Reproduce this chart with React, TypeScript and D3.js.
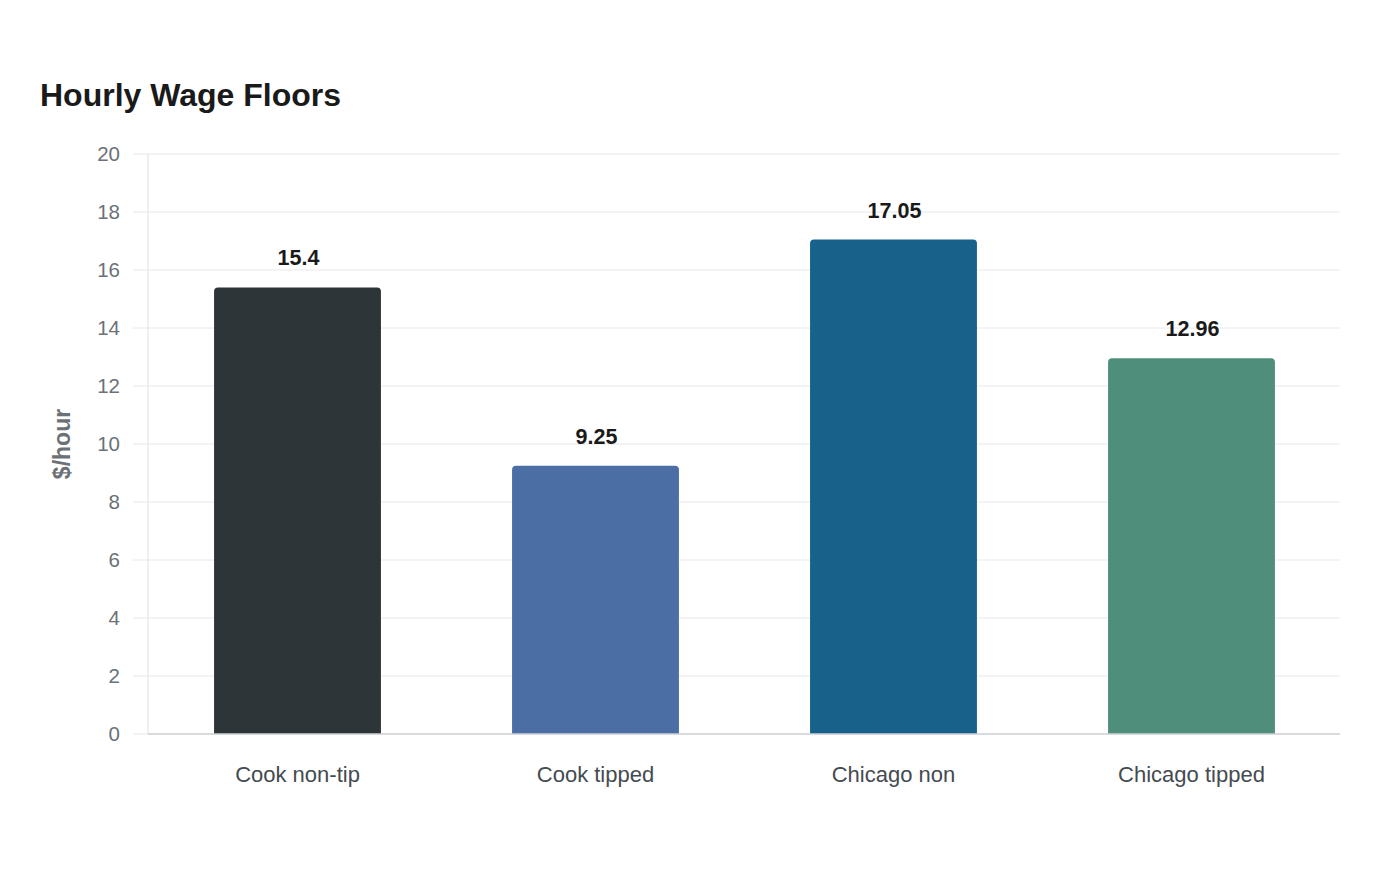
import React from 'react';
import * as d3 from 'd3';

const categories = ['Cook non-tip', 'Cook tipped', 'Chicago non', 'Chicago tipped'];
const values = [15.4, 9.25, 17.05, 12.96];
const valueLabels = ['15.4', '9.25', '17.05', '12.96'];
const barColors = ['#2d3538', '#4b6fa5', '#17628a', '#4f8e7b'];
const yTicks = [0, 2, 4, 6, 8, 10, 12, 14, 16, 18, 20];

const W = 1400;
const H = 880;
const margin = { top: 154, right: 60, bottom: 146, left: 148 };
const font = '"Liberation Sans", Arial, sans-serif';

// rounded top corners only
function barPath(x: number, y: number, w: number, h: number, r: number) {
  const rr = Math.min(r, h / 2, w / 2);
  return `M${x},${y + h}V${y + rr}Q${x},${y} ${x + rr},${y}H${x + w - rr}Q${x + w},${y} ${x + w},${y + rr}V${y + h}Z`;
}

export default function App() {
  const x = d3.scaleBand<string>()
    .domain(categories)
    .range([margin.left, W - margin.right])
    .paddingInner(0.44)
    .paddingOuter(0.22);

  const y = d3.scaleLinear()
    .domain([0, 20])
    .range([H - margin.bottom, margin.top]);

  const band = (W - margin.right - margin.left) / categories.length;

  return (
    <svg width={W} height={H} style={{ display: 'block', position: 'absolute', left: 0, top: 0, background: '#fff' }} fontFamily={font}>
      <text x={40} y={106} fontSize={32} fontWeight="bold" fill="#1a1a1a">Hourly Wage Floors</text>

      {/* gridlines + tick labels */}
      {yTicks.map(t => (
        <g key={t}>
          <line x1={133} x2={W - margin.right} y1={y(t)} y2={y(t)} stroke="#e8e8e8" strokeWidth={1} />
          <text x={120} y={y(t)} dy="0.35em" textAnchor="end" fontSize={20.5} fill="#6b7176">{t}</text>
        </g>
      ))}
      <line x1={margin.left} x2={margin.left} y1={y(20)} y2={y(0)} stroke="#e0e0e0" strokeWidth={1} />

      <text transform={`translate(70,${(y(0) + y(20)) / 2}) rotate(-90)`} textAnchor="middle" fontSize={23} fontWeight="bold" fill="#6b7176">$/hour</text>

      {/* bars */}
      {categories.map((c, i) => {
        const cx = margin.left + band * i + band / 2 + 0.5;
        const bw = x.bandwidth();
        const top = y(values[i]);
        return (
          <g key={c}>
            <path d={barPath(cx - bw / 2, top, bw, y(0) - top, 4)} fill={barColors[i]} />
            <text x={cx + 1} y={top - 22} textAnchor="middle" fontSize={21.5} fontWeight="bold" fill="#1a1a1a">{valueLabels[i]}</text>
            <text x={cx} y={782} textAnchor="middle" fontSize={22} fill="#444b50">{c}</text>
          </g>
        );
      })}

      <line x1={margin.left} x2={W - margin.right} y1={y(0)} y2={y(0)} stroke="#cfd3d6" strokeWidth={1.5} />
    </svg>
  );
}
